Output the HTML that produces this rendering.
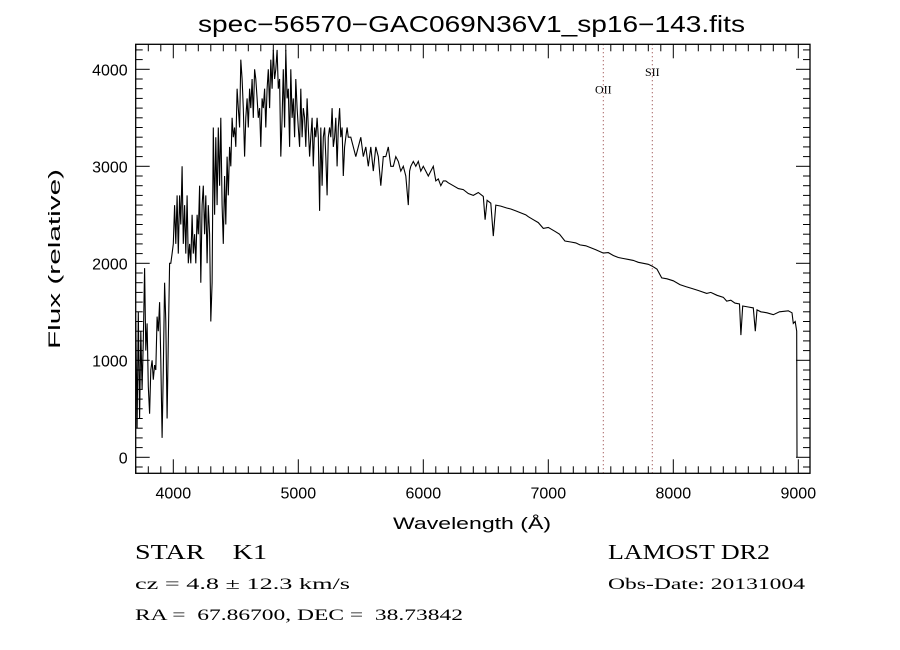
<!DOCTYPE html>
<html><head><meta charset="utf-8"><style>
html,body{margin:0;padding:0;background:#fff;}
svg{display:block;font-family:"Liberation Sans",sans-serif;}
.info{font-family:"Liberation Serif",serif;}
</style></head><body>
<svg id="chart" width="900" height="650" viewBox="0 0 900 650" xmlns="http://www.w3.org/2000/svg">
<rect x="0" y="0" width="900" height="650" fill="#fff"/>
<text x="198" y="32" font-size="23" textLength="547" lengthAdjust="spacingAndGlyphs">spec−56570−GAC069N36V1_sp16−143.fits</text>
<g id="lines"></g>
<g id="ticks"></g>
<path id="spec" fill="none" stroke="#000" stroke-width="1.1"/>
<rect x="135.7" y="44.3" width="674.3" height="429" fill="none" stroke="#000" stroke-width="1.3"/>
<text x="393" y="529" font-size="17" textLength="158" lengthAdjust="spacingAndGlyphs">Wavelength (Å)</text>
<text transform="translate(60,259) rotate(-90)" font-size="17" text-anchor="middle" textLength="180" lengthAdjust="spacingAndGlyphs">Flux (relative)</text>
<text x="135" y="559" font-size="21" class="info" textLength="132" lengthAdjust="spacingAndGlyphs" xml:space="preserve">STAR    K1</text>
<text x="135" y="589" font-size="16" class="info" textLength="215" lengthAdjust="spacingAndGlyphs">cz = 4.8 ± 12.3 km/s</text>
<text x="135" y="620" font-size="16" class="info" textLength="328" lengthAdjust="spacingAndGlyphs" xml:space="preserve">RA =  67.86700, DEC =  38.73842</text>
<text x="608" y="559" font-size="21" class="info" textLength="162" lengthAdjust="spacingAndGlyphs">LAMOST DR2</text>
<text x="608" y="589" font-size="16" class="info" textLength="197" lengthAdjust="spacingAndGlyphs">Obs-Date: 20131004</text>
</svg>
<script>
const wavelengths=[3700,3710,3720,3730,3740,3750,3760,3770,3780,3790,3800,3810,3820,3830,3840,3850,3860,3870,3880,3890,3900,3910,3920,3930,3940,3950,3960,3970,3980,3990,4000,4010,4020,4030,4040,4050,4060,4070,4080,4090,4100,4110,4120,4130,4140,4150,4160,4170,4180,4190,4200,4210,4220,4230,4240,4250,4260,4270,4280,4290,4300,4310,4320,4330,4340,4350,4360,4370,4380,4390,4400,4410,4420,4430,4440,4450,4460,4470,4480,4490,4500,4510,4520,4530,4540,4550,4560,4570,4580,4590,4600,4610,4620,4630,4640,4650,4660,4670,4680,4690,4700,4710,4720,4730,4740,4750,4760,4770,4780,4790,4800,4810,4820,4830,4840,4850,4860,4870,4880,4890,4900,4910,4920,4930,4940,4950,4960,4970,4980,4990,5000,5010,5020,5030,5040,5050,5060,5070,5080,5090,5100,5110,5120,5130,5140,5150,5160,5170,5180,5190,5200,5210,5220,5230,5240,5250,5260,5270,5280,5290,5300,5310,5320,5330,5340,5350,5360,5370,5380,5390,5400,5420,5440,5460,5480,5500,5520,5540,5560,5580,5600,5620,5640,5660,5680,5700,5720,5740,5760,5780,5800,5820,5840,5860,5880,5890,5900,5920,5940,5960,5980,6000,6020,6040,6060,6080,6100,6120,6140,6160,6180,6200,6240,6280,6320,6360,6400,6440,6480,6494,6510,6540,6560,6580,6620,6667,6700,6740,6780,6820,6840,6880,6920,6960,7000,7053,7090,7133,7180,7220,7253,7300,7340,7380,7440,7480,7520,7560,7600,7640,7680,7720,7760,7800,7832,7870,7907,7950,8000,8053,8100,8150,8200,8267,8300,8350,8400,8427,8460,8493,8530,8541,8555,8600,8640,8656,8670,8700,8750,8800,8850,8920,8950,8960,8975,8987,8990];
const fluxes=[1400,300,1500,400,1300,700,1200,1950,1100,1380,730,450,900,1000,800,950,900,1450,1300,1600,1000,200,900,1800,1400,400,1200,2000,2000,2100,2200,2600,2200,2700,2100,2700,2400,3000,2200,2600,2100,2700,2000,2200,2000,2500,2100,2300,2000,2500,2300,2800,1800,2600,2800,2300,2700,2000,2600,2300,1400,1800,3400,2500,3300,2600,3400,2800,3500,2600,2200,2900,2400,3100,2700,3200,3000,3500,3300,3400,3200,3800,3600,3400,4100,3900,3600,3100,3500,3700,3400,3800,3600,3900,3500,4000,3900,3700,3500,3600,3200,3700,3600,3800,3400,3800,4000,3600,4100,3800,4200,3900,4000,4200,3800,3900,3100,3500,4000,3400,4200,3700,3800,3200,4000,3500,3700,3300,3900,3600,3400,3200,3800,3300,3600,3500,3200,3700,3400,3100,3300,3500,3000,3400,3300,3500,3300,2540,3400,2800,3300,3400,3100,2700,3300,3400,3300,3600,3200,3300,3500,3000,3400,3600,3300,3400,2900,3200,3300,3400,3300,3300,3200,3100,3200,3300,3100,3200,3000,3200,2950,3200,3100,2800,3100,3100,3200,3000,3000,3100,3050,2950,3000,2900,2600,2950,3000,3050,3000,3050,2950,3000,2950,2900,2950,3000,2850,2870,2800,2850,2850,2830,2800,2770,2760,2720,2700,2730,2690,2450,2650,2620,2280,2600,2590,2570,2560,2540,2520,2500,2480,2450,2420,2360,2370,2330,2300,2230,2220,2210,2190,2180,2160,2140,2105,2110,2080,2060,2050,2040,2030,2010,2000,1990,1970,1940,1850,1840,1820,1780,1760,1740,1720,1690,1700,1670,1650,1610,1620,1590,1580,1260,1560,1550,1540,1300,1520,1500,1490,1470,1500,1510,1490,1380,1400,1300,0,0];
const xTicks=[4000,5000,6000,7000,8000,9000];
const yTicks=[0,1000,2000,3000,4000];
const lineNames=["OII","SII"];
const lineWaves=[7440,7832];
const lineLabelFlux=[3800,3980];
const L=135.7,R=810,T=44.3,B=473.3;
const X=w=>173.3+(w-4000)*0.125;
const Y=f=>457.3-f*0.097;
const NS="http://www.w3.org/2000/svg";
function mk(tag,attrs,parent){const e=document.createElementNS(NS,tag);for(const k in attrs)e.setAttribute(k,attrs[k]);parent.appendChild(e);return e;}
let d="";
for(let i=0;i<wavelengths.length;i++){d+=(i?"L":"M")+X(wavelengths[i]).toFixed(1)+","+Y(fluxes[i]).toFixed(1);}
document.getElementById("spec").setAttribute("d",d);
const tg=document.getElementById("ticks");
for(let w=3700;w<=9090;w+=100){const x=X(w);const major=w%1000===0;const len=major?14:7;
 const t1=mk("line",{x1:x,y1:B,x2:x,y2:B-len,stroke:"#000","stroke-width":1},tg);
 
 
 const t2=mk("line",{x1:x,y1:T,x2:x,y2:T+len,stroke:"#000","stroke-width":1},tg);
 
 }
for(let f=-100;f<=4200;f+=100){const y=Y(f);const major=f%1000===0;const len=major?14:7;
 const t1=mk("line",{x1:L,y1:y,x2:L+len,y2:y,stroke:"#000","stroke-width":1},tg);
 
 
 const t2=mk("line",{x1:R,y1:y,x2:R-len,y2:y,stroke:"#000","stroke-width":1},tg);
 
 }
xTicks.forEach(w=>{const t=mk("text",{x:X(w),y:B+25,"font-size":16,"text-anchor":"middle"},tg);t.textContent=w;
 
 });
yTicks.forEach(f=>{const t=mk("text",{x:L-8,y:Y(f)+6,"font-size":16,"text-anchor":"end"},tg);t.textContent=f;
 
 });
const lg=document.getElementById("lines");
lineWaves.forEach((w,i)=>{const x=X(w);
 const l=mk("line",{x1:x,y1:T,x2:x,y2:B,stroke:"#8b3030","stroke-width":1,"stroke-dasharray":"1,3"},lg);
 
 
 const t=mk("text",{x:x,y:Y(lineLabelFlux[i])+5,"font-size":12,"text-anchor":"middle","font-family":"Liberation Serif, serif"},lg);t.textContent=lineNames[i];
 
 });
</script>
</body></html>
